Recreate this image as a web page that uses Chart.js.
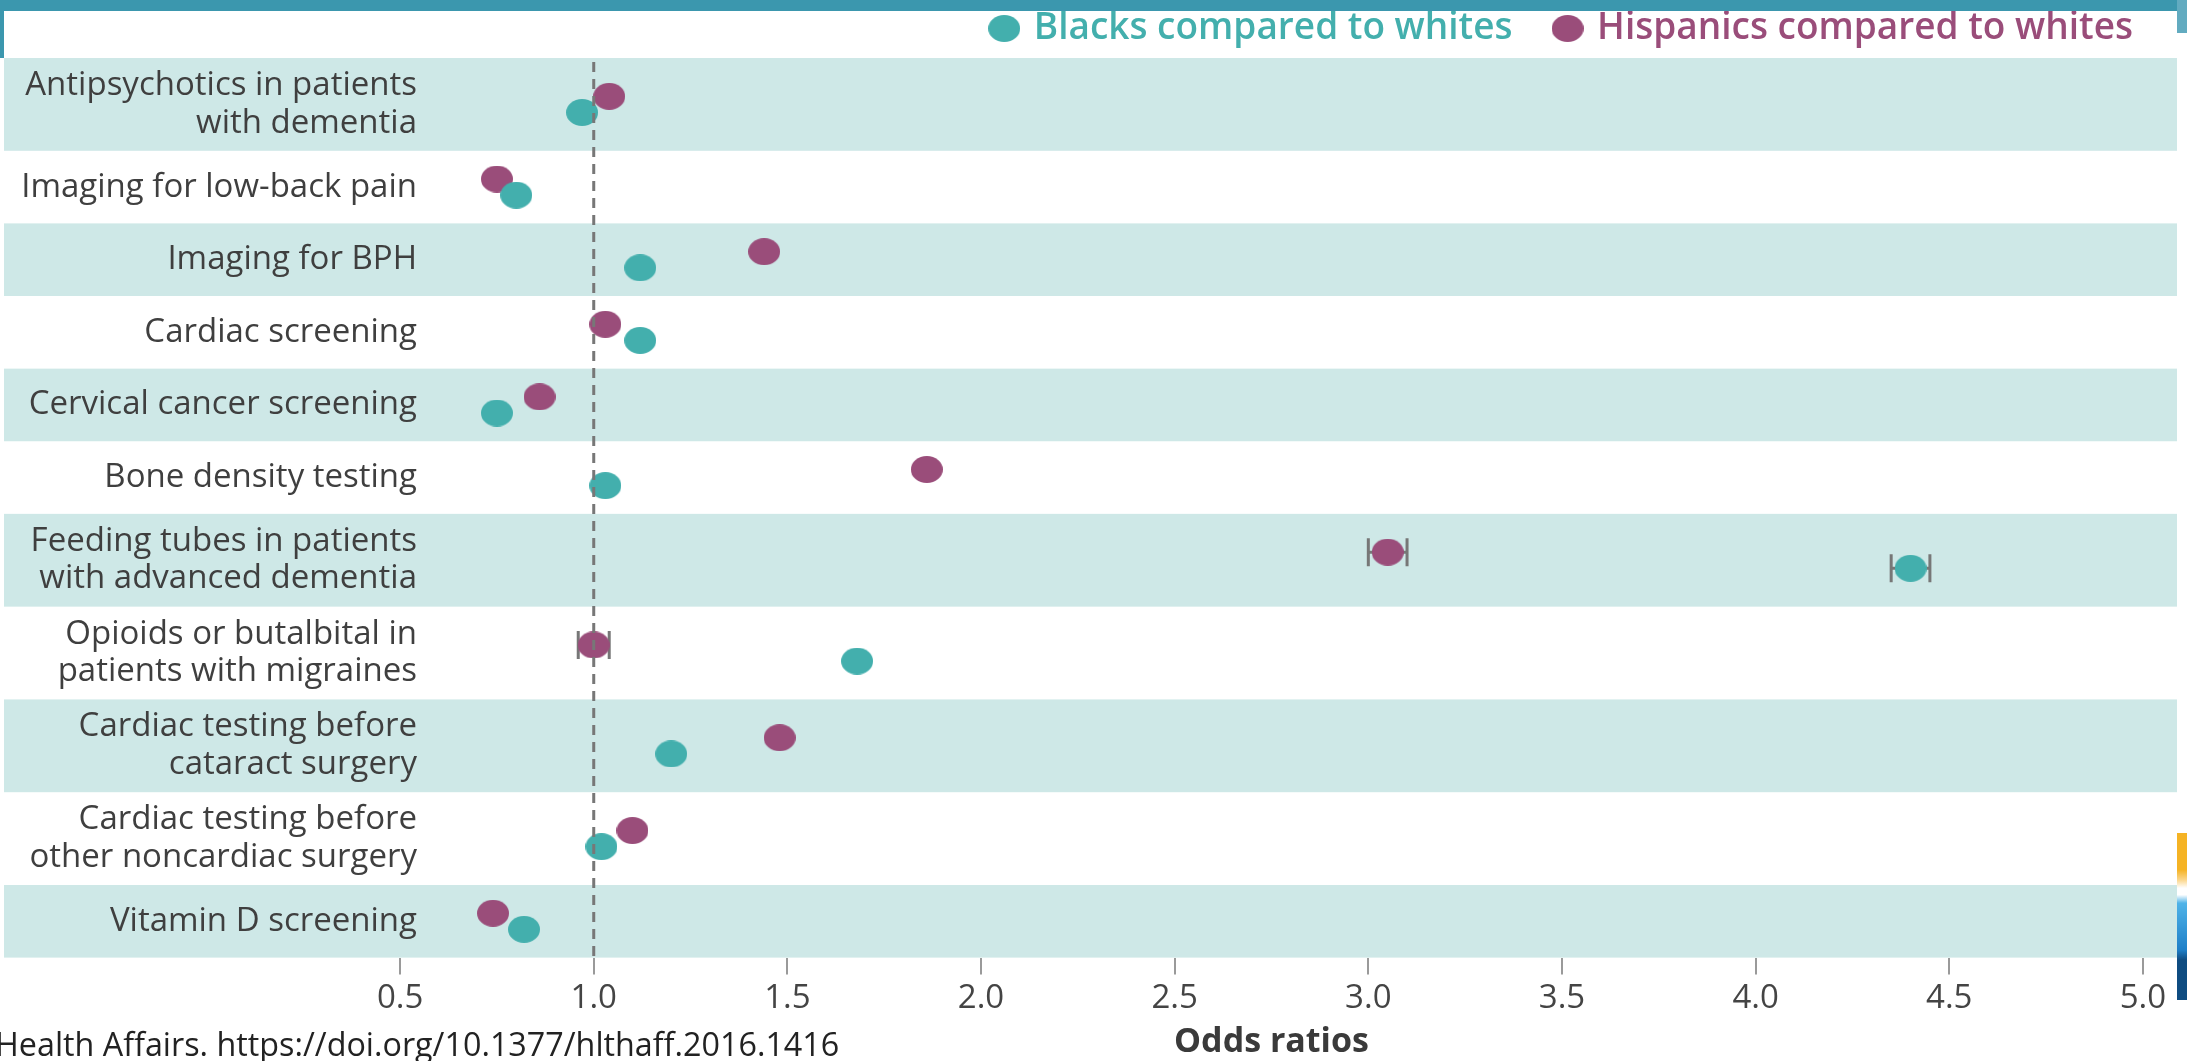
<!DOCTYPE html>
<html>
<head>
<meta charset="utf-8">
<script src="https://cdn.jsdelivr.net/npm/chart.js@4"></script>
<style>
  html, body { margin: 0; padding: 0; background: #fff; overflow: hidden; }
  #caixa { position: relative; width: 2187px; height: 1061px; }
  #grafico { position: absolute; left: 0; top: 0; }
  .faixa-topo { position: absolute; left: 0; top: 0; width: 2187px; height: 11px; background: #3b97ae; }
  .faixa-esq { position: absolute; left: 0; top: 0; width: 4px; height: 58px; background: #3b97ae; }
  .faixa-dir { position: absolute; left: 2177px; top: 0; width: 10px; height: 33px; background: #62abc0; }
  .icone { position: absolute; left: 2177px; top: 833px; width: 10px; height: 167px;
    background: linear-gradient(#f5b324 0, #f5b324 22%, #fbd68a 28%, #fff 33%, #fff 37%, #4fb3e8 42%, #1e7fc8 70%, #0f4c81 76%, #0f4c81 100%); }
  .fonte { position: absolute; left: -5px; top: 1023px; font: 32.3px "Open Sans", sans-serif; line-height: 40px; color: #222; white-space: nowrap; }
</style>
</head>
<body>
<div id="caixa">
  <canvas id="grafico" width="2187" height="1061"></canvas>
  <div class="faixa-topo"></div>
  <div class="faixa-esq"></div>
  <div class="faixa-dir"></div>
  <div class="icone"></div>
  <div class="fonte">Health Affairs. https://doi.org/10.1377/hlthaff.2016.1416</div>
</div>
<script>
// categorias (linhas de cima para baixo)
const rowLabels = [
  ["Antipsychotics in patients", "with dementia"],
  "Imaging for low-back pain",
  "Imaging for BPH",
  "Cardiac screening",
  "Cervical cancer screening",
  "Bone density testing",
  ["Feeding tubes in patients", "with advanced dementia"],
  ["Opioids or butalbital in", "patients with migraines"],
  ["Cardiac testing before", "cataract surgery"],
  ["Cardiac testing before", "other noncardiac surgery"],
  "Vitamin D screening"
];

// odds ratios
const blacks    = [0.97, 0.80, 1.12, 1.12, 0.75, 1.03, 4.40, 1.68, 1.20, 1.02, 0.82];
const hispanics = [1.04, 0.75, 1.44, 1.03, 0.86, 1.86, 3.05, 1.00, 1.48, 1.10, 0.74];

// intervalos de confiança (só onde aparecem)
const blacksCI    = [null, null, null, null, null, null, [4.35, 4.45], null, null, null, null];
const hispanicsCI = [null, null, null, null, null, null, [3.00, 3.10], [0.96, 1.04], null, null, null];

const xTicks = [0.5, 1.0, 1.5, 2.0, 2.5, 3.0, 3.5, 4.0, 4.5, 5.0];

const TEAL = "#43afad";
const ROXO = "#9a4d7a";
const FAIXA = "#cee8e7";
const FONTE_Y = { family: "Open Sans", size: 33, lineHeight: 1.14 };

// altura de cada linha: labels de duas linhas ficam mais altas
const rowH = rowLabels.map(l => Array.isArray(l) ? 92 : 72);
const rowTop = [];
const rowMid = [];
let soma = 0;
rowH.forEach(h => { rowTop.push(soma); rowMid.push(soma + h / 2); soma += h; });

// largura do maior label, para alinhar os textos à direita em x = 417
const medida = document.createElement("canvas").getContext("2d");
medida.font = FONTE_Y.size + "px " + FONTE_Y.family;
const maisLarga = Math.max(...rowLabels.flat().map(t => medida.measureText(t).width));

function elipse(cor) {
  const c = document.createElement("canvas");
  c.width = 32; c.height = 27;
  const g = c.getContext("2d");
  g.fillStyle = cor;
  g.beginPath();
  g.ellipse(16, 13.5, 16, 13.5, 0, 0, Math.PI * 2);
  g.fill();
  return c;
}

const extras = {
  id: "extras",
  beforeDraw(chart) {
    const { ctx, chartArea, scales: { y } } = chart;
    ctx.save();
    ctx.fillStyle = FAIXA;
    rowTop.forEach((t, i) => {
      if (i % 2) return;
      const y0 = y.getPixelForValue(t);
      const y1 = y.getPixelForValue(t + rowH[i]);
      ctx.fillRect(y.left, y0, chartArea.right - y.left, y1 - y0);
    });
    ctx.restore();
  },
  beforeDatasetsDraw(chart) {
    const { ctx, scales: { x } } = chart;
    ctx.save();
    ctx.strokeStyle = "#777";
    ctx.lineWidth = 3;
    chart.data.datasets.forEach((ds, d) => {
      const meta = chart.getDatasetMeta(d);
      ds.ci.forEach((ci, i) => {
        if (!ci) return;
        const py = meta.data[i].y;
        const a = x.getPixelForValue(ci[0]);
        const b = x.getPixelForValue(ci[1]);
        ctx.beginPath();
        ctx.moveTo(a, py); ctx.lineTo(b, py);
        ctx.moveTo(a, py - 14); ctx.lineTo(a, py + 14);
        ctx.moveTo(b, py - 14); ctx.lineTo(b, py + 14);
        ctx.stroke();
      });
    });
    ctx.restore();
  },
  afterDatasetsDraw(chart) {
    // linha de referência em OR = 1
    const { ctx, chartArea, scales: { x } } = chart;
    const px = x.getPixelForValue(1);
    ctx.save();
    ctx.strokeStyle = "#777";
    ctx.lineWidth = 3;
    ctx.setLineDash([10, 7]);
    ctx.beginPath();
    ctx.moveTo(px, chartArea.top + 5);
    ctx.lineTo(px, chartArea.bottom);
    ctx.stroke();
    ctx.restore();
  }
};

new Chart(document.getElementById("grafico"), {
  type: "scatter",
  data: {
    datasets: [{
      label: "Blacks compared to whites",
      data: blacks.map((v, i) => ({ x: v, y: rowMid[i] + 8 })),
      ci: blacksCI,
      backgroundColor: TEAL,
      borderColor: TEAL,
      pointStyle: elipse(TEAL)
    }, {
      label: "Hispanics compared to whites",
      data: hispanics.map((v, i) => ({ x: v, y: rowMid[i] - 8 })),
      ci: hispanicsCI,
      backgroundColor: ROXO,
      borderColor: ROXO,
      pointStyle: elipse(ROXO)
    }]
  },
  options: {
    responsive: false,
    animation: false,
    events: [],
    layout: { padding: { top: -34, left: 4, right: 10, bottom: 0 } },
    plugins: {
      tooltip: { enabled: false },
      legend: {
        position: "top",
        align: "end",
        labels: {
          usePointStyle: true,
          boxWidth: 22,
          padding: 44,
          font: { family: "Open Sans", size: 37, weight: "600" },
          generateLabels: chart => Chart.defaults.plugins.legend.labels.generateLabels(chart)
            .map(it => ({ ...it, fontColor: chart.data.datasets[it.datasetIndex].borderColor }))
        }
      }
    },
    scales: {
      x: {
        type: "linear",
        min: 0.412,
        max: 5.088,
        afterBuildTicks: ax => { ax.ticks = xTicks.map(v => ({ value: v })); },
        ticks: {
          callback: v => v.toFixed(1),
          font: { family: "Open Sans", size: 33 },
          color: "#444",
          padding: 4,
          autoSkip: false,
          maxRotation: 0
        },
        grid: { drawOnChartArea: false, tickLength: 17, color: "#9a9a9a", lineWidth: 2 },
        border: { display: false },
        title: {
          display: true,
          text: "Odds ratios",
          font: { family: "Open Sans", size: 34, weight: "bold" },
          color: "#3a3a3a",
          padding: { top: 0, bottom: -2 }
        }
      },
      y: {
        type: "linear",
        reverse: true,
        min: -1,
        max: soma,
        afterBuildTicks: ax => { ax.ticks = rowMid.map(v => ({ value: v })); },
        afterFit: ax => { ax.width = 362; },
        ticks: {
          callback: (v, i) => rowLabels[i],
          font: FONTE_Y,
          color: "#3f3f3f",
          mirror: true,
          crossAlign: "far",
          padding: 51 - maisLarga,
          autoSkip: false
        },
        grid: { display: false, drawTicks: false },
        border: { display: false }
      }
    }
  },
  plugins: [extras]
});
</script>
</body>
</html>
